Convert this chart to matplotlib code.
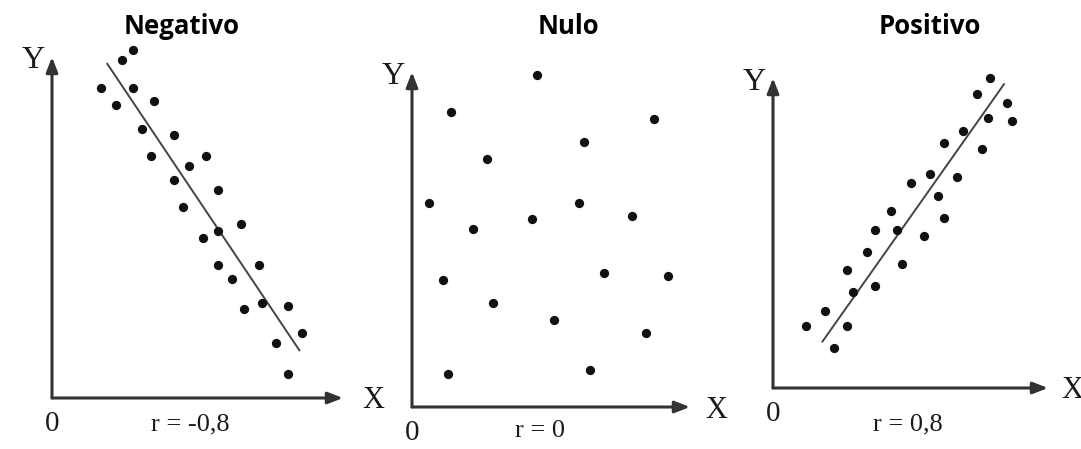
import matplotlib.pyplot as plt

W, H = 1081, 449

# puntos de cada diagrama (escala 0-10 en ambos ejes)
neg_x = [2.8, 2.4, 1.7, 2.8, 2.2, 3.5, 3.1, 4.2, 3.4, 5.3, 4.7, 4.2, 5.7,
         4.5, 6.5, 5.7, 5.2, 7.1, 5.7, 6.2, 7.2, 8.1, 6.6, 8.6, 7.7, 8.1]
neg_y = [10.2, 9.9, 9.1, 9.1, 8.6, 8.7, 7.9, 7.7, 7.1, 7.1, 6.8, 6.4, 6.1,
         5.6, 5.1, 4.9, 4.7, 3.9, 3.9, 3.5, 2.8, 2.7, 2.6, 1.9, 1.6, 0.7]
neg_line_x = [1.9, 8.5]
neg_line_y = [9.8, 1.4]

nul_x = [4.5, 1.4, 8.7, 6.2, 2.7, 0.6, 6.0, 4.3, 7.9, 2.2, 6.9, 9.2, 1.1,
         2.9, 5.1, 8.4, 1.3, 6.4]
nul_y = [9.9, 8.8, 8.6, 7.9, 7.4, 6.1, 6.1, 5.6, 5.7, 5.3, 4.0, 3.9, 3.8,
         3.1, 2.6, 2.2, 1.0, 1.1]

pos_x = [7.9, 7.4, 8.5, 7.8, 8.7, 6.9, 6.2, 7.6, 5.7, 6.7, 5.0, 6.0, 4.3,
         6.2, 3.7, 4.5, 5.5, 3.4, 4.7, 2.7, 3.7, 2.9, 1.9, 1.2, 2.7, 2.2]
pos_y = [10.0, 9.5, 9.2, 8.7, 8.6, 8.3, 7.9, 7.7, 6.9, 6.8, 6.6, 6.2, 5.7,
         5.5, 5.1, 5.1, 4.9, 4.4, 4.0, 3.8, 3.3, 3.1, 2.5, 2.0, 2.0, 1.3]
pos_line_x = [1.8, 8.4]
pos_line_y = [1.5, 9.8]

titles = ["Negativo", "Nulo", "Positivo"]
r_labels = ["r = -0,8", "r = 0", "r = 0,8"]

fig = plt.figure(figsize=(W / 100, H / 100), dpi=100)
fig.patch.set_facecolor("white")


def fx(x):
    return x / W


def fy(y):
    return 1 - y / H


# (origen x, origen y, punta eje x, punta eje y) en pixeles
boxes = [(52, 398, 343, 57), (412, 407, 690, 72), (773, 388, 1048, 78)]
datos = [(neg_x, neg_y, neg_line_x, neg_line_y),
         (nul_x, nul_y, None, None),
         (pos_x, pos_y, pos_line_x, pos_line_y)]
title_x = [182, 568, 930]
r_pos = [(190, 424), (540, 431), (908, 424)]
xlab_x = [362, 705, 1061]

serif = "Liberation Serif"

for i, ((ox, oy, xt, yt), (xs, ys, lx, ly)) in enumerate(zip(boxes, datos)):
    ax = fig.add_axes([fx(ox), fy(oy), (xt - ox) / W, (oy - yt) / H])
    ax.set_xlim(0, 10)
    ax.set_ylim(0, 10)
    ax.axis("off")
    ax.scatter(xs, ys, s=32, color="#111111", clip_on=False, zorder=3)
    if lx is not None:
        ax.plot(lx, ly, color="#444444", lw=1.4, clip_on=False)
    # ejes con flecha
    arrow = dict(arrowstyle="-|>,head_length=0.9,head_width=0.35",
                 color="#333333", lw=2.2, shrinkA=0, shrinkB=0)
    ax.annotate("", xy=(1, 0), xytext=(0, 0), xycoords="axes fraction",
                arrowprops=arrow, annotation_clip=False)
    ax.annotate("", xy=(0, 1), xytext=(0, 0), xycoords="axes fraction",
                arrowprops=arrow, annotation_clip=False)

    fig.text(fx(title_x[i]), fy(26), titles[i], ha="center", va="center",
             fontsize=18.5, fontweight="bold", family="Open Sans")
    fig.text(fx(ox - 19), fy(yt + 4), "Y", ha="center", va="center",
             fontsize=23, family=serif, color="#1a1a1a")
    fig.text(fx(xlab_x[i]), fy(oy + 3), "X", ha="left", va="center",
             fontsize=22, family=serif, color="#1a1a1a")
    fig.text(fx(ox), fy(oy + 26), "0", ha="center", va="center",
             fontsize=21, family=serif, color="#1a1a1a")
    fig.text(fx(r_pos[i][0]), fy(r_pos[i][1]), r_labels[i], ha="center",
             va="center", fontsize=19, family=serif, color="#1a1a1a")

fig.savefig("out.png", dpi=100)
